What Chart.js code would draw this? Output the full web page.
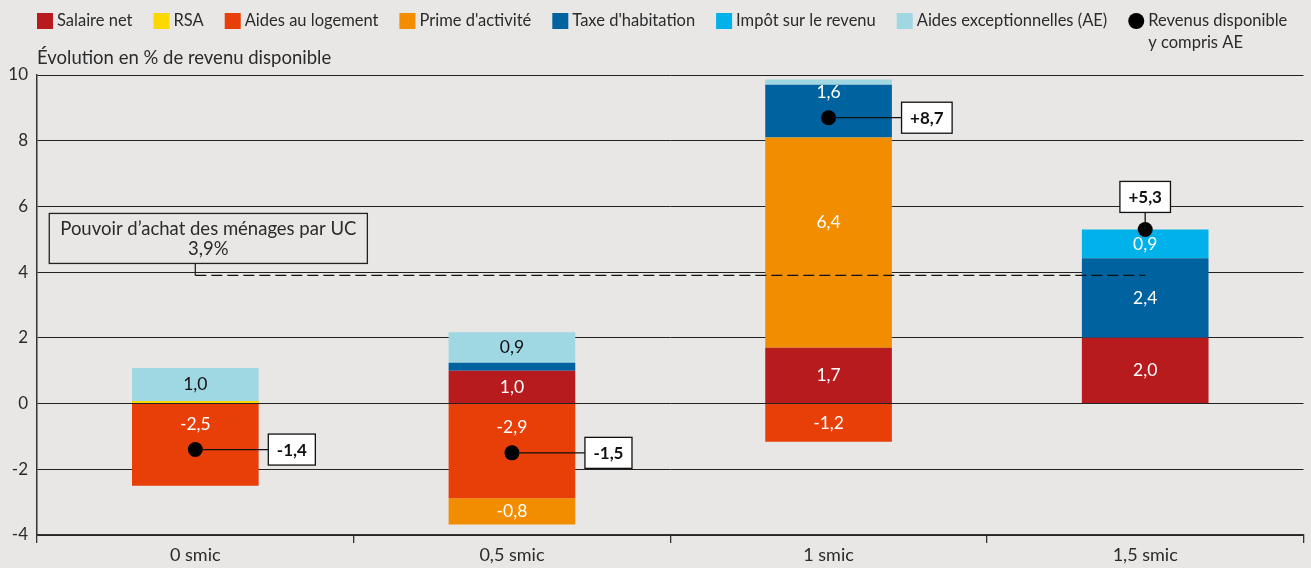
<!DOCTYPE html>
<html lang="fr">
<head>
<meta charset="utf-8">
<script src="https://cdn.jsdelivr.net/npm/chart.js@4"></script>
<style>
  html, body { margin: 0; padding: 0; background: #e8e7e5; }
  #wrap { position: relative; width: 1311px; height: 568px; }
</style>
</head>
<body>
<div id="wrap"><canvas id="c" width="1311" height="568"></canvas></div>
<script>
// Décomposition de l'évolution du revenu disponible par niveau de salaire
const categories = ['0 smic', '0,5 smic', '1 smic', '1,5 smic'];
const salaireNet = [0, 1.0, 1.7, 2.0];
const rsa = [0.08, 0, 0, 0];
const aidesLogement = [-2.5, -2.88, -1.16, 0];
const primeActivite = [0, -0.8, 6.4, 0];
const taxeHabitation = [0, 0.24, 1.6, 2.42];
const impotRevenu = [0, 0, 0, 0.88];
const aidesExceptionnelles = [1.0, 0.93, 0.16, 0];
const revenuDisponible = [-1.4, -1.5, 8.7, 5.3];
const pouvoirAchat = 3.9;
const yTicks = [-4, -2, 0, 2, 4, 6, 8, 10];

const FONT = 'Lato, "Open Sans", sans-serif';
const TEXT = '#2b2b2b';

function fmt(v) { return v.toFixed(1).replace('.', ','); }

function barSet(label, data, color, textColor) {
  return { type: 'bar', label: label, data: data, backgroundColor: color,
    stack: 'bars', order: 2, textColor: textColor,
    categoryPercentage: 1, barPercentage: 0.4 };
}

const datasets = [
  barSet('Salaire net', salaireNet, '#b81b1d', '#fff'),
  barSet('RSA', rsa, '#fcd700', '#fff'),
  barSet('Aides au logement', aidesLogement, '#e83f08', '#fff'),
  barSet("Prime d'activité", primeActivite, '#f28d00', '#fff'),
  barSet("Taxe d'habitation", taxeHabitation, '#00629e', '#fff'),
  barSet('Impôt sur le revenu', impotRevenu, '#00b1ea', '#fff'),
  barSet('Aides exceptionnelles (AE)', aidesExceptionnelles, '#9fd7e2', '#111'),
  { type: 'line', label: 'ref', data: categories.map(() => pouvoirAchat), stack: 'ref',
    borderColor: '#111', borderWidth: 1.3, borderDash: [11, 5], pointRadius: 0, order: 1 },
  { type: 'line', label: ['Revenus disponible', 'y compris AE'], data: revenuDisponible, stack: 'tot',
    showLine: false, pointRadius: 7.5, pointBackgroundColor: '#000', pointBorderWidth: 0, order: 0 }
];

// shift of some in-bar labels (dataset index, category index) -> px
const labelShift = { '3,2': -20 };

const decor = {
  id: 'decor',
  afterDraw(chart) {
    const c = chart.ctx;
    const x = chart.scales.x, y = chart.scales.y;
    const dotMeta = chart.getDatasetMeta(8);
    c.save();

    // axis title
    c.font = '18.5px ' + FONT;
    c.fillStyle = TEXT;
    c.textAlign = 'left';
    c.textBaseline = 'middle';
    c.fillText('Évolution en % de revenu disponible', 37, 58);

    // legend
    c.font = '16.5px ' + FONT;
    let lx = 37;
    for (let i = 0; i < 7; i++) {
      const ds = chart.data.datasets[i];
      c.fillStyle = ds.backgroundColor;
      c.fillRect(lx, 13, 16, 16);
      c.fillStyle = TEXT;
      c.fillText(ds.label, lx + 20, 21);
      lx += 20 + c.measureText(ds.label).width + 21;
    }
    c.fillStyle = '#000';
    c.beginPath(); c.arc(lx + 8, 21, 8, 0, Math.PI * 2); c.fill();
    c.fillStyle = TEXT;
    chart.data.datasets[8].label.forEach((t, k) => c.fillText(t, lx + 20, 21 + k * 22));

    // values inside bars
    c.font = '17.5px ' + FONT;
    c.textAlign = 'center';
    for (let i = 0; i < 7; i++) {
      const ds = chart.data.datasets[i];
      const meta = chart.getDatasetMeta(i);
      meta.data.forEach((el, j) => {
        const v = ds.data[j];
        if (Math.abs(v) < 0.5) return;
        const top = Math.min(el.y, el.base), bot = Math.max(el.y, el.base);
        let ty = (top + bot) / 2;
        const dy = dotMeta.data[j].y;
        if (dy > top && dy < bot) ty = dy - 25;
        ty += labelShift[i + ',' + j] || 0;
        c.fillStyle = ds.textColor;
        c.fillText(fmt(v), el.x, ty);
      });
    }

    // purchasing power annotation
    const yRef = y.getPixelForValue(pouvoirAchat);
    const x0 = x.getPixelForValue(0);
    const lines = ['Pouvoir d’achat des ménages par UC', fmt(pouvoirAchat) + '%'];
    c.font = '18.5px ' + FONT;
    const bw = c.measureText(lines[0]).width + 22;
    const bx = x0 + 13 - bw / 2, bb = yRef - 12, bt = bb - 50;
    c.strokeStyle = '#222';
    c.lineWidth = 1.3;
    c.strokeRect(bx, bt, bw, bb - bt);
    c.beginPath(); c.moveTo(x0, bb); c.lineTo(x0, yRef); c.stroke();
    c.fillStyle = TEXT;
    c.fillText(lines[0], bx + bw / 2, bt + 16);
    c.fillText(lines[1], bx + bw / 2, bt + 36);

    // total labels
    c.font = 'bold 17px ' + FONT;
    dotMeta.data.forEach((pt, j) => {
      const v = revenuDisponible[j];
      const txt = (v > 0 ? '+' : '') + fmt(v);
      const w = c.measureText(txt).width + 17, h = 31;
      let rx, ry;
      c.strokeStyle = '#111';
      c.lineWidth = 1.3;
      c.beginPath();
      if (j === categories.length - 1) {
        rx = pt.x - w / 2; ry = pt.y - 17 - h;
        c.moveTo(pt.x, pt.y); c.lineTo(pt.x, ry + h);
      } else {
        rx = pt.x + 73; ry = pt.y - h / 2;
        c.moveTo(pt.x + 6, pt.y); c.lineTo(rx, pt.y);
      }
      c.stroke();
      c.fillStyle = '#fff';
      c.fillRect(rx, ry, w, h);
      c.strokeRect(rx, ry, w, h);
      c.fillStyle = '#111';
      c.fillText(txt, rx + w / 2, ry + h / 2 + 1);
    });
    c.restore();
  }
};

new Chart(document.getElementById('c').getContext('2d'), {
  data: { labels: categories, datasets: datasets },
  options: {
    responsive: false,
    animation: false,
    layout: { padding: { top: 75, right: 4, left: 0, bottom: 0 } },
    plugins: { legend: { display: false }, tooltip: { enabled: false } },
    scales: {
      x: {
        stacked: true,
        afterFit: s => { s.height = 33; },
        grid: { offset: true, drawOnChartArea: false, tickLength: 8, color: '#333', lineWidth: 1.3 },
        border: { color: '#333', width: 1.3 },
        ticks: { font: { family: FONT, size: 18 }, color: TEXT, padding: 1 }
      },
      y: {
        stacked: true,
        min: -4, max: 10,
        afterFit: s => { s.width = 37; },
        afterBuildTicks: s => { s.ticks = yTicks.map(v => ({ value: v })); },
        grid: { color: '#222', lineWidth: 1, drawTicks: false },
        border: { color: '#333', width: 1.5 },
        ticks: { font: { family: FONT, size: 17 }, color: TEXT, padding: 9 }
      }
    }
  },
  plugins: [decor]
});
</script>
</body>
</html>
